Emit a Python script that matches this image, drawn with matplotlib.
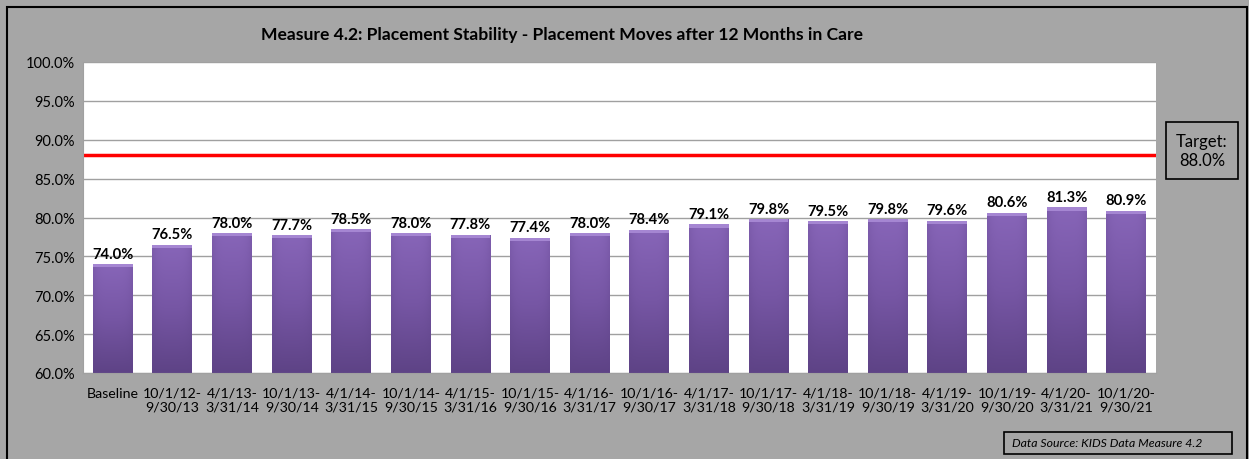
import numpy as np
import matplotlib.pyplot as plt
from matplotlib.patches import Rectangle
from matplotlib.colors import LinearSegmentedColormap

periods = ["Baseline", "10/1/12-\n9/30/13", "4/1/13-\n3/31/14", "10/1/13-\n9/30/14",
           "4/1/14-\n3/31/15", "10/1/14-\n9/30/15", "4/1/15-\n3/31/16", "10/1/15-\n9/30/16",
           "4/1/16-\n3/31/17", "10/1/16-\n9/30/17", "4/1/17-\n3/31/18", "10/1/17-\n9/30/18",
           "4/1/18-\n3/31/19", "10/1/18-\n9/30/19", "4/1/19-\n3/31/20", "10/1/19-\n9/30/20",
           "4/1/20-\n3/31/21", "10/1/20-\n9/30/21"]
rates = [74.0, 76.5, 78.0, 77.7, 78.5, 78.0, 77.8, 77.4, 78.0, 78.4,
         79.1, 79.8, 79.5, 79.8, 79.6, 80.6, 81.3, 80.9]
target = 88.0

plt.rcParams['font.family'] = ['Lato', 'DejaVu Sans']
bg = '#a6a6a6'
W, H = 1249, 460

fig = plt.figure(figsize=(12.49, 4.60), dpi=100, facecolor=bg)
fig.patches.append(Rectangle((7 / W, -0.05), 1240 / W, 1 - 8 / H + 0.05,
                             transform=fig.transFigure, fill=False, ec='black', lw=1.5))

ax = fig.add_axes([83 / W, 1 - 374 / H, 1073 / W, 311 / H])
ax.set_facecolor('white')
ax.set_yticks(np.arange(60, 100.1, 5))
ax.set_yticklabels([f"{v:.1f}%" for v in np.arange(60, 100.1, 5)], fontsize=10.5)
ax.grid(axis='y', color='#a0a0a0', lw=1)
ax.set_axisbelow(True)
for s in ['top', 'right']:
    ax.spines[s].set_visible(False)
ax.spines['left'].set_color('#a0a0a0')
ax.spines['bottom'].set_color('#a0a0a0')
ax.tick_params(axis='y', length=0, pad=6)
ax.tick_params(axis='x', length=0, pad=10)

x = np.arange(len(rates))
ax.set_xticks(x)
ax.set_xticklabels(periods, fontsize=10.2, linespacing=1.2)

cmap = LinearSegmentedColormap.from_list('bar', ['#5e4386', '#7656a4', '#8765b8'])
grad = np.linspace(0, 1, 100).reshape(-1, 1)
edge = 1 - 0.3 * np.abs(np.linspace(-1, 1, 50)) ** 4
img = grad * edge[None, :]
bars = ax.bar(x, rates, width=0.67, color='#7556a2', zorder=2)
for b in bars:
    x0, w, h = b.get_x(), b.get_width(), b.get_height()
    im = ax.imshow(img, cmap=cmap, extent=[x0, x0 + w, 60, h], origin='lower',
                   aspect='auto', zorder=2.1, vmin=0, vmax=1)
    im.set_clip_path(b)
    ax.add_patch(Rectangle((x0, h - 0.4), w, 0.4, color='#a586d2', zorder=2.2, lw=0))
    ax.text(x0 + w / 2, h + 0.45, f"{h:.1f}%", ha='center', va='bottom',
            fontsize=10.6, fontweight='bold', zorder=3)
ax.set_xlim(-0.5, len(rates) - 0.5)
ax.set_ylim(60, 100)

ax.axhline(target, color='#ff0000', lw=2.5, zorder=2.5)

fig.text(562 / W, 1 - 35 / H, "Measure 4.2: Placement Stability - Placement Moves after 12 Months in Care",
         ha='center', va='center', fontsize=12.6, fontweight='bold')

# target box
fig.patches.append(Rectangle((1166 / W, 1 - 180 / H), 72 / W, 57 / H,
                             transform=fig.transFigure, fill=False, ec='black', lw=1.2))
fig.text(1202 / W, 1 - 151.5 / H, f"Target:\n{target:.1f}%", ha='center', va='center',
         fontsize=12, linespacing=1.25)

# data source box
fig.patches.append(Rectangle((1004 / W, 1 - 455 / H), 228 / W, 22 / H,
                             transform=fig.transFigure, fill=False, ec='black', lw=1.2))
fig.text(1107 / W, 1 - 444 / H, "Data Source: KIDS Data Measure 4.2", ha='center', va='center',
         fontsize=8.8, style='italic')

fig.savefig('out.png', dpi=100, facecolor=bg)
